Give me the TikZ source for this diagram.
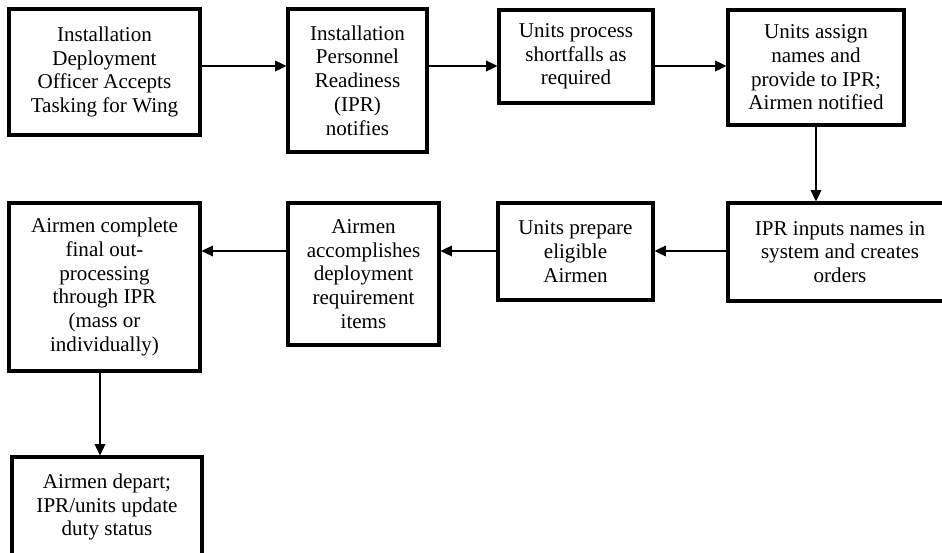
\documentclass[tikz,border=0pt]{standalone}
\usepackage{fontspec}
\setmainfont{Liberation Serif}
\usepackage{tikz}
\usetikzlibrary{positioning, arrows.meta, calc}
\def\px{0.75pt}
\tikzstyle{arrow} = [black, -{Triangle[length=8.5pt, width=8pt]}, line width=1pt]
\tikzstyle{stepbox} = [draw=black, rectangle, line width=2.3pt, fill=white, inner sep=0, align=center,
  font=\fontsize{15.8pt}{17.8pt}\selectfont]
\newcommand{\tikzstepnode}[2]{\node[stepbox, minimum width=#1*\px, minimum height=#2*\px]}

\begin{document}
\begin{tikzpicture}[x=\px, y=-\px]
    \clip (0,0) rectangle (942,553);
    % nodes
    \tikzstepnode{191}{126} at (104.5, 72)  (accept)   {Installation\\Deployment\\Officer Accepts\\Tasking for Wing};
    \tikzstepnode{139}{143} at (357.5, 80.5) (ipr)     {Installation\\Personnel\\Readiness\\(IPR)\\notifies};
    \tikzstepnode{154}{93}  at (576, 56.5)  (shortfall) {Units process\\shortfalls as\\required};
    \tikzstepnode{176}{115} at (816, 67.5)  (assign)   {Units assign\\names and\\provide to IPR;\\Airmen notified};
    \tikzstepnode{224}{98}  at (840, 252)   (orders)   {IPR inputs names in\\system and creates\\orders};
    \tikzstepnode{155}{97}  at (575.5, 251.5) (prepare) {Units prepare\\eligible\\Airmen};
    \tikzstepnode{151}{142} at (363.5, 274) (items)    {Airmen\\accomplishes\\deployment\\requirement\\items};
    \tikzstepnode{191}{168} at (104.5, 287) (outproc)  {Airmen complete\\final out-\\processing\\through IPR\\(mass or\\individually)};
    \tikzstepnode{190}{100} at (107, 507)   (depart)   {Airmen depart;\\IPR/units update\\duty status};

    % rows and columns
    \coordinate (row1) at (0, 66);
    \coordinate (row2) at (0, 251);
    \coordinate (col1) at (100, 0);

    % arrows
    \draw[arrow] (accept.east |- row1)    -- (ipr.west |- row1);
    \draw[arrow] (ipr.east |- row1)       -- (shortfall.west |- row1);
    \draw[arrow] (shortfall.east |- row1) -- (assign.west |- row1);
    \draw[arrow] (assign.south)           -- (assign.south |- orders.north);
    \draw[arrow] (orders.west |- row2)    -- (prepare.east |- row2);
    \draw[arrow] (prepare.west |- row2)   -- (items.east |- row2);
    \draw[arrow] (items.west |- row2)     -- (outproc.east |- row2);
    \draw[arrow] (outproc.south -| col1)  -- (depart.north -| col1);
\end{tikzpicture}
\end{document}
